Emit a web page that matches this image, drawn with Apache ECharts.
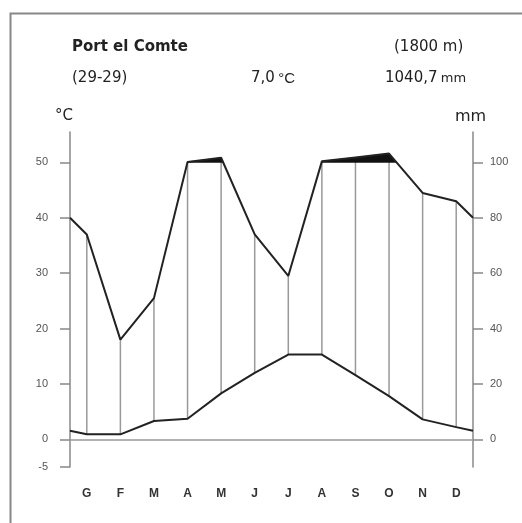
<!DOCTYPE html>
<html>
<head>
<meta charset="utf-8">
<script src="https://cdn.jsdelivr.net/npm/echarts@6/dist/echarts.min.js"></script>
<style>
  html, body { margin: 0; padding: 0; background: #fff; }
  #chart { width: 522px; height: 523px; }
</style>
</head>
<body>
<div id="chart"></div>
<script>
// Diagrama climàtic de Walter-Lieth: Port el Comte
const months = ['G', 'F', 'M', 'A', 'M', 'J', 'J', 'A', 'S', 'O', 'N', 'D'];
const temps = [0.9, 0.9, 3.3, 3.7, 8.3, 12.0, 15.3, 15.3, 11.6, 7.8, 3.6, 2.2]; // °C
const precip = [74, 36, 51, 102, 117, 74, 59, 104, 118, 132, 89, 86];         // mm
const tempTicks = [-5, 0, 10, 20, 30, 40, 50];
const precipTicks = [0, 10, 20, 30, 40, 50]; // en escala de °C (x2 = mm)

// mm -> escala de temperatura (1 °C = 2 mm, per sobre de 100 mm 1 °C = 20 mm)
function toScale(p) {
  return p <= 100 ? p / 2 : 50 + (p - 100) / 20;
}

// punts: vores (mitjana gen-des) + centres de mes
function buildPoints(vals) {
  const edge = (vals[0] + vals[11]) / 2;
  const pts = [[0, edge]];
  vals.forEach((v, i) => pts.push([i + 0.5, v]));
  pts.push([12, edge]);
  return pts;
}

const tempPts = buildPoints(temps);
const precipPts = buildPoints(precip.map(toScale));

// trossos de la corba de pluja per sobre de 100 mm
function aboveRuns(pts, lim) {
  const runs = [];
  let cur = null;
  for (let i = 0; i < pts.length; i++) {
    const [x, y] = pts[i];
    if (y > lim) {
      if (!cur) {
        cur = [];
        if (i > 0) {
          const [x0, y0] = pts[i - 1];
          cur.push([x0 + (x - x0) * (lim - y0) / (y - y0), lim]);
        } else {
          cur.push([x, lim]);
        }
      }
      cur.push([x, y]);
    } else if (cur) {
      const [x0, y0] = pts[i - 1];
      cur.push([x0 + (x - x0) * (y0 - lim) / (y0 - y), lim]);
      runs.push(cur);
      cur = null;
    }
  }
  if (cur) { cur.push([cur[cur.length - 1][0], lim]); runs.push(cur); }
  return runs;
}
const blackRuns = aboveRuns(precipPts, 50);

const hatchData = temps.map((t, i) => [i + 0.5, t, toScale(precip[i])]);

const chart = echarts.init(document.getElementById('chart'));
const FONT = 'Liberation Sans, Arial, sans-serif';
const WIDE = 'DejaVu Sans, sans-serif';

const option = {
  animation: false,
  backgroundColor: '#fff',
  textStyle: { fontFamily: FONT },
  grid: { left: 70, right: 49, top: 132, height: 335 },
  xAxis: [
    { type: 'value', min: 0, max: 12, show: false },
    {
      type: 'category', data: months, position: 'bottom', boundaryGap: true,
      axisLine: { show: false },
      axisTick: { alignWithLabel: true, length: 11, lineStyle: { color: '#999', width: 1 } },
      axisLabel: { margin: 21, color: '#333', fontWeight: 'bold', fontSize: 12, fontFamily: FONT }
    }
  ],
  yAxis: [
    {
      type: 'value', min: -5, max: 55.5, position: 'left',
      splitLine: { show: false },
      axisLine: { show: true, lineStyle: { color: '#888', width: 1.5 } },
      axisTick: { show: true, customValues: tempTicks, length: 10, lineStyle: { color: '#888', width: 1.5 } },
      axisLabel: { customValues: tempTicks, color: '#555', fontSize: 11, margin: 22, fontFamily: FONT }
    },
    {
      type: 'value', min: -5, max: 55.5, position: 'right',
      splitLine: { show: false },
      axisLine: { show: true, lineStyle: { color: '#888', width: 1.5 } },
      axisTick: { show: true, customValues: precipTicks, length: 10, lineStyle: { color: '#888', width: 1.5 } },
      axisLabel: {
        customValues: precipTicks, color: '#555', fontSize: 11, margin: 17, fontFamily: FONT,
        formatter: v => String(v * 2)
      }
    }
  ],
  series: [
    {
      // ratlles verticals del període humit
      type: 'custom',
      xAxisIndex: 0, yAxisIndex: 0,
      data: hatchData,
      encode: { x: 0, y: [1, 2] },
      z: 1,
      renderItem: function (params, api) {
        const x = api.value(0), t = api.value(1), p = api.value(2);
        if (p <= t) return null;
        const a = api.coord([x, t]);
        const b = api.coord([x, p]);
        return {
          type: 'line',
          shape: { x1: a[0], y1: a[1], x2: b[0], y2: b[1] },
          style: { stroke: '#999', lineWidth: 1.5 }
        };
      }
    },
    {
      // zona negra per sobre de 100 mm
      type: 'custom',
      xAxisIndex: 0, yAxisIndex: 0,
      data: [[0, 50]],
      z: 3,
      renderItem: function (params, api) {
        return {
          type: 'group',
          children: blackRuns.map(run => ({
            type: 'polygon',
            shape: { points: run.map(pt => api.coord(pt)) },
            style: { fill: '#111', stroke: '#111', lineWidth: 0.5 }
          }))
        };
      }
    },
    {
      name: 'Temperatura',
      type: 'line',
      xAxisIndex: 0, yAxisIndex: 0,
      data: tempPts,
      symbol: 'none',
      z: 4,
      lineStyle: { color: '#222', width: 2 },
      markLine: {
        silent: true, symbol: 'none', label: { show: false },
        lineStyle: { color: '#999', width: 1.5, type: 'solid' },
        data: [{ yAxis: 0 }]
      }
    },
    {
      name: 'Precipitació',
      type: 'line',
      xAxisIndex: 0, yAxisIndex: 0,
      data: precipPts,
      symbol: 'none',
      z: 4,
      lineStyle: { color: '#222', width: 2 }
    }
  ],
  graphic: [
    {
      type: 'polyline', silent: true,
      shape: { points: [[10.5, 523], [10.5, 13.5], [522, 13.5]] },
      style: { stroke: '#888', lineWidth: 2, fill: null }
    },
    { type: 'text', left: 72, top: 40, style: { text: 'Port el Comte', font: 'bold 15px ' + WIDE, fill: '#222' } },
    { type: 'text', left: 394, top: 40, style: { text: '(1800 m)', font: '15px ' + WIDE, fill: '#222' } },
    { type: 'text', left: 72, top: 71, style: { text: '(29-29)', font: '15px ' + WIDE, fill: '#222' } },
    {
      type: 'text', left: 251, top: 71,
      style: {
        text: '{a|7,0} {b|°C}', fill: '#222',
        rich: { a: { font: '15px ' + WIDE }, b: { font: '15px ' + FONT } }
      }
    },
    {
      type: 'text', left: 385, top: 71,
      style: {
        text: '{a|1040,7} {b|mm}', fill: '#222',
        rich: { a: { font: '15px ' + WIDE }, b: { font: '13px ' + WIDE } }
      }
    },
    { type: 'text', left: 55, top: 109, style: { text: '°C', font: '15px ' + WIDE, fill: '#222' } },
    { type: 'text', left: 455, top: 109, style: { text: 'mm', font: '16px ' + WIDE, fill: '#222' } }
  ]
};

chart.setOption(option);
</script>
</body>
</html>
